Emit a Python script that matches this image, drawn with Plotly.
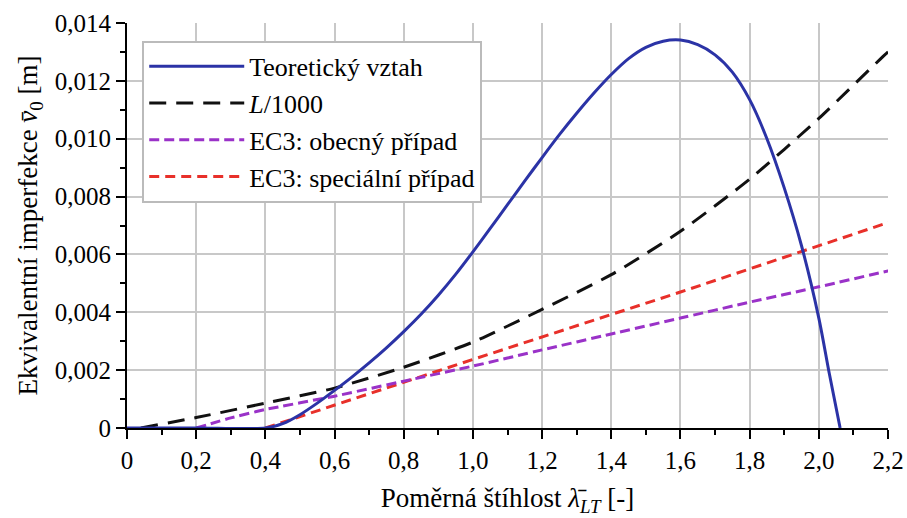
import plotly.graph_objects as go

# ---- data ----
theor_x = [0, 0.2, 0.4, 0.45, 0.5, 0.55, 0.6, 0.65, 0.7, 0.75, 0.8, 0.85, 0.9, 0.95, 1.0, 1.05, 1.1, 1.15,
           1.2, 1.25, 1.3, 1.35, 1.4, 1.45, 1.5, 1.55, 1.6, 1.65, 1.7, 1.75, 1.8, 1.85, 1.9, 1.95, 2.0,
           2.03, 2.0616]
theor_y = [0, 0, 0, 0.00015, 0.00046, 0.00086, 0.0013, 0.00176, 0.00225, 0.00277, 0.00333, 0.00393, 0.00459,
           0.00531, 0.00609, 0.0069, 0.00772, 0.00854, 0.00935, 0.01014, 0.01088, 0.01158, 0.01222, 0.01277,
           0.01316, 0.01337, 0.01341, 0.01325, 0.0129, 0.0123, 0.01135, 0.0100, 0.0083, 0.0063, 0.0038,
           0.0019, 0.0]

l1000_x = [0.04, 0.2, 0.4, 0.6, 0.8, 1.0, 1.2, 1.4, 1.6, 1.8, 2.0, 2.2, 2.214]
l1000_y = [0.0, 0.00036, 0.00086, 0.00138, 0.0021, 0.00297, 0.0041, 0.0053, 0.0068, 0.0086, 0.0107, 0.0130, 0.01312]

ec3_gen_x = [0.2, 0.3, 0.4, 0.6, 0.8, 1.0, 1.2, 1.4, 1.6, 1.8, 2.0, 2.2, 2.22]
ec3_gen_y = [0.0, 0.00035, 0.00064, 0.0011, 0.00162, 0.00214, 0.0027, 0.00325, 0.0038, 0.00435, 0.00488, 0.00543, 0.00548]

ec3_spec_x = [0.4, 1.0, 1.6, 2.2, 2.22]
ec3_spec_y = [0.0, 0.00237, 0.0047, 0.0071, 0.00718]

x_ticks = [0, 0.2, 0.4, 0.6, 0.8, 1.0, 1.2, 1.4, 1.6, 1.8, 2.0, 2.2]
x_ticktext = ["0", "0,2", "0,4", "0,6", "0,8", "1,0", "1,2", "1,4", "1,6", "1,8", "2,0", "2,2"]
y_ticks = [0, 0.002, 0.004, 0.006, 0.008, 0.010, 0.012, 0.014]
y_ticktext = ["0", "0,002", "0,004", "0,006", "0,008", "0,010", "0,012", "0,014"]

names = ["Teoretický vztah", "<i>L</i>/1000", "EC3: obecný případ", "EC3: speciální případ"]

FONT = "Liberation Serif"

fig = go.Figure()
fig.add_trace(go.Scatter(x=ec3_spec_x, y=ec3_spec_y, mode="lines", name=names[3], legendrank=4,
                         line=dict(color="#E8302A", width=3, dash="10px,6px")))
fig.add_trace(go.Scatter(x=ec3_gen_x, y=ec3_gen_y, mode="lines", name=names[2], legendrank=3,
                         line=dict(color="#9A32C8", width=3, dash="10px,5px", shape="spline", smoothing=0.4)))
fig.add_trace(go.Scatter(x=l1000_x, y=l1000_y, mode="lines", name=names[1], legendrank=2,
                         line=dict(color="#111111", width=3, dash="17px,10px", shape="spline", smoothing=0.6)))
fig.add_trace(go.Scatter(x=theor_x, y=theor_y, mode="lines", name=names[0], legendrank=1,
                         line=dict(color="#2B33A6", width=3, shape="spline", smoothing=0.8)))

axis_common = dict(
    showgrid=True, gridcolor="#C8C8C8", gridwidth=1.5,
    showline=True, linecolor="black", linewidth=2,
    ticks="outside", ticklen=9, tickwidth=2, tickcolor="black",
    zeroline=False, automargin=False, ticklabeloverflow="allow",
    tickfont=dict(family=FONT, size=25, color="black"),
)

fig.update_layout(
    width=907, height=518,
    paper_bgcolor="white", plot_bgcolor="white",
    margin=dict(l=127, r=19, t=23, b=90),
    font=dict(family=FONT, size=26, color="black"),
    showlegend=True,
    legend=dict(x=0.02, y=0.956, xanchor="left", yanchor="top",
                bgcolor="white", bordercolor="#BBBBBB", borderwidth=2,
                font=dict(family=FONT, size=26, color="black"),
                itemwidth=95, tracegroupgap=0),
    xaxis=dict(range=[0, 2.2], tickvals=x_ticks, ticktext=x_ticktext,
               minor=dict(dtick=0.1, ticks="outside", ticklen=5, tickwidth=2, tickcolor="black", showgrid=False),
               title=dict(text="Poměrná štíhlost <i>λ̄</i><sub><i>LT</i></sub> [-]",
                          font=dict(family=FONT, size=27), standoff=15),
               **axis_common),
    yaxis=dict(range=[0, 0.014], tickvals=y_ticks, ticktext=y_ticktext,
               minor=dict(dtick=0.001, ticks="outside", ticklen=5, tickwidth=2, tickcolor="black", showgrid=False),
               title=dict(text="Ekvivalentní imperfekce <i>v̄</i><sub>0</sub> [m]",
                          font=dict(family=FONT, size=27), standoff=9),
               **axis_common),
)

# remove the default page margin so the 907x518 figure fills the window exactly
fig.write_html("out.html", config={"displayModeBar": False},
               post_script="document.body.style.margin='0';document.body.style.overflow='hidden';")
